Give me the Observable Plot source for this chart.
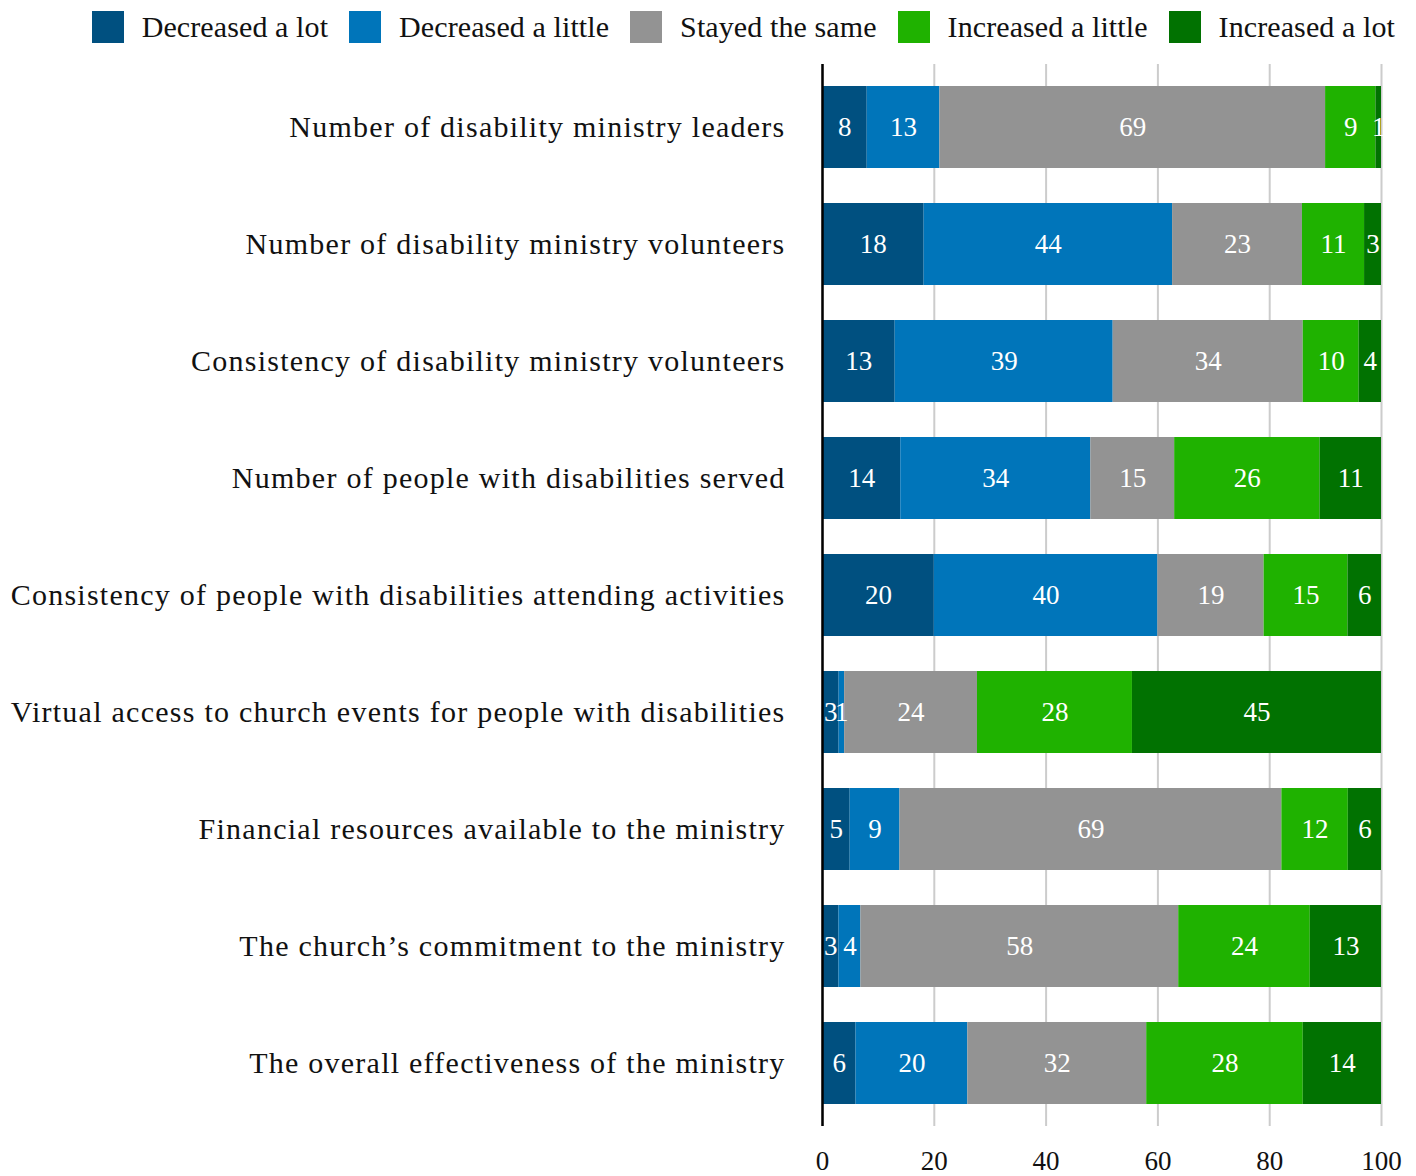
<!DOCTYPE html>
<html>
<head>
<meta charset="utf-8">
<script src="https://cdn.jsdelivr.net/npm/d3@7"></script>
<script src="https://cdn.jsdelivr.net/npm/@observablehq/plot@0.6"></script>
<style>
  body { margin: 0; background: #fff; font-family: "Liberation Serif", serif; }
  #legend { display: flex; justify-content: flex-end; align-items: center; height: 54px; padding-right: 21px; box-sizing: border-box; font-size: 30px; letter-spacing: 0.1px; color: #111; }
  #legend .item { display: flex; align-items: center; margin-left: 21px; }
  #legend .sw { width: 32px; height: 32px; margin-right: 18px; }
  #chart g[aria-label="y-axis tick label"] { letter-spacing: 1.25px; }
</style>
</head>
<body>
<div id="legend"></div>
<div id="chart"></div>
<script>
const categories = [
  "Number of disability ministry leaders",
  "Number of disability ministry volunteers",
  "Consistency of disability ministry volunteers",
  "Number of people with disabilities served",
  "Consistency of people with disabilities attending activities",
  "Virtual access to church events for people with disabilities",
  "Financial resources available to the ministry",
  "The church\u2019s commitment to the ministry",
  "The overall effectiveness of the ministry"
];
const responses = ["Decreased a lot", "Decreased a little", "Stayed the same", "Increased a little", "Increased a lot"];
const colors = ["#005080", "#0075BA", "#939393", "#1FB200", "#017201"];

const decreasedALot    = [8, 18, 13, 14, 20, 3, 5, 3, 6];
const decreasedALittle = [13, 44, 39, 34, 40, 1, 9, 4, 20];
const stayedTheSame    = [69, 23, 34, 15, 19, 24, 69, 58, 32];
const increasedALittle = [9, 11, 10, 26, 15, 28, 12, 24, 28];
const increasedALot    = [1, 3, 4, 11, 6, 45, 6, 13, 14];
const xTicks = [0, 20, 40, 60, 80, 100];

const series = [decreasedALot, decreasedALittle, stayedTheSame, increasedALittle, increasedALot];
const data = [];
categories.forEach((c, i) => {
  series.forEach((s, j) => data.push({category: c, response: responses[j], value: s[i]}));
});

// legend
const legend = document.getElementById("legend");
responses.forEach((r, j) => {
  const it = document.createElement("div");
  it.className = "item";
  const sw = document.createElement("div");
  sw.className = "sw";
  sw.style.background = colors[j];
  const t = document.createElement("span");
  t.textContent = r;
  it.appendChild(sw); it.appendChild(t);
  legend.appendChild(it);
});

const stackOpts = {x: "value", y: "category", z: "response", order: responses, offset: "normalize"};

const chart = Plot.plot({
  width: 1416,
  height: 1122,
  marginLeft: 822,
  marginRight: 35,
  marginTop: 10,
  marginBottom: 50,
  style: {fontFamily: "Liberation Serif, serif", background: "#fff", color: "#111"},
  x: {domain: [0, 1], axis: null, label: null},
  y: {domain: categories, paddingInner: 0.3, paddingOuter: 0.17, axis: null, label: null},
  color: {domain: responses, range: colors},
  marks: [
    Plot.gridX(xTicks.map(d => d / 100), {stroke: "#cccccc", strokeOpacity: 1, strokeWidth: 2}),
    Plot.barX(data, Plot.stackX({...stackOpts, fill: "response"})),
    Plot.textX(data, Plot.stackX({...stackOpts, text: d => String(d.value), fill: "white", fontSize: 27})),
    Plot.ruleX([0], {stroke: "#000", strokeWidth: 2.5}),
    Plot.axisX(xTicks.map(d => d / 100), {tickSize: 0, tickPadding: 24, fontSize: 27, tickFormat: d => Math.round(d * 100), fill: "#111", label: null}),
    Plot.axisY({tickSize: 0, tickPadding: 37, fontSize: 30, fill: "#111", textAnchor: "end", label: null})
  ]
});
document.getElementById("chart").appendChild(chart);
</script>
</body>
</html>
